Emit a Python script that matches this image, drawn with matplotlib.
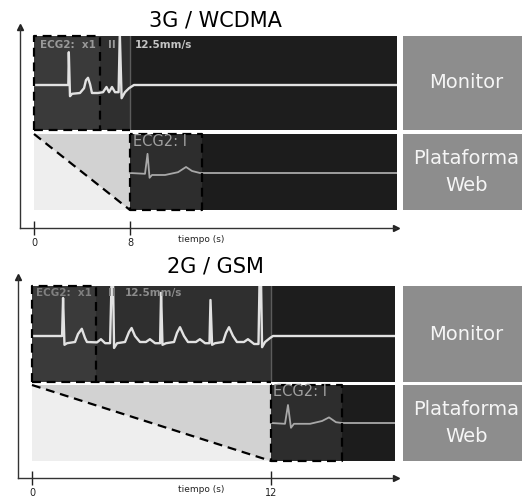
import matplotlib.pyplot as plt

W, H = 522, 500

# -----------------------------
# DATOS
# -----------------------------
titulos = ["3G / WCDMA", "2G / GSM"]
retardos = [8, 12]              # segundos hasta que la web muestra el ECG
ticks_tiempo = [[0, 8], [0, 12]]
etiqueta_tiempo = "tiempo (s)"
etiquetas_caja = ["Monitor", "Plataforma\nWeb"]
texto_monitor = ["ECG2:  x1", "II", "12.5mm/s"]
texto_web = "ECG2: I"

# ECG en el monitor, 3G (t en s, amplitud en mV)
mon_t_3g = [0.0, 2.86, 2.9, 3.0, 3.17, 3.83, 4.17, 4.33, 4.5, 4.67, 4.83, 5.33,
            5.75, 6.04, 6.25, 6.5, 6.75, 7.05, 7.15, 7.3, 7.58, 7.92, 8.33, 31.0]
mon_v_3g = [0, 0, 0.82, -0.28, -0.22, -0.2, -0.08, 0.12, 0.18, 0.02, -0.2, -0.2,
            -0.18, -0.05, -0.18, -0.05, -0.18, -0.18, 1.3, -0.33, -0.18, -0.08, 0, 0]

# ECG en la plataforma web, 3G
web_t_3g = [8.0, 9.25, 9.46, 9.63, 9.83, 10.92, 12.0, 12.67, 13.17, 13.83, 31.0]
web_v_3g = [0, -0.02, 0.48, -0.12, -0.05, -0.05, 0.02, 0.15, 0.05, 0, 0]

# ECG en el monitor, 2G
mon_t_2g = [0.0, 1.46, 1.51, 1.56, 1.63, 1.76, 2.16, 2.31, 2.5, 2.66, 2.76, 3.26,
            3.46, 3.67, 3.92, 3.99, 4.07, 4.12, 4.27, 4.67, 4.87, 5.0, 5.17, 5.42,
            5.72, 5.92, 6.18, 6.43, 6.48, 6.55, 6.73, 7.13, 7.28, 7.43, 7.63, 7.83,
            8.23, 8.43, 8.69, 8.91, 8.96, 9.04, 9.19, 9.59, 9.74, 9.89, 10.09, 10.29,
            10.64, 10.84, 11.15, 11.37, 11.42, 11.5, 11.55, 11.7, 11.95, 12.1, 19.0]
mon_v_2g = [0, 0, 0, 0.95, -0.22, -0.18, -0.15, 0.05, 0.18, -0.05, -0.15, -0.16,
            -0.08, -0.18, -0.18, 1.3, 1.3, -0.3, -0.18, -0.15, 0.1, 0.2, 0, -0.15,
            -0.15, -0.08, -0.18, -0.18, 1.08, -0.22, -0.18, -0.15, 0.08, 0.22, 0, -0.15,
            -0.15, -0.08, -0.18, -0.18, 0.9, -0.22, -0.18, -0.15, 0.08, 0.22, 0, -0.15,
            -0.15, -0.08, -0.2, -0.2, 1.3, 1.3, -0.28, -0.15, -0.05, 0, 0]

# ECG en la plataforma web, 2G
web_t_2g = [12.0, 12.7, 12.85, 13.0, 13.15, 13.96, 14.56, 14.91, 15.26, 15.56, 19.0]
web_v_2g = [0, -0.02, 0.45, -0.12, -0.02, -0.02, 0.05, 0.14, 0.02, 0, 0]

# -----------------------------
# DISPOSICIÓN (pixeles)
# -----------------------------
paneles = [
    dict(t0=34, pps=12.0, ax_x0=20, ax_x1=396, ax_top=27, ax_y=228, x1=397,
         mon=(36, 130), web=(134, 210), mon_base=85, web_base=173,
         caja_mon=100, caja_web=202, titulo_y=20, txt_mon=(40, 108, 135, 45),
         txt_web=(133, 142), col_txt=["#9a9a9a", "#9a9a9a", "#c4c4c4"]),
    dict(t0=32, pps=19.92, ax_x0=18, ax_x1=396, ax_top=277, ax_y=478, x1=395,
         mon=(286, 382), web=(385, 461), mon_base=336, web_base=423,
         caja_mon=96, caja_web=342, titulo_y=267, txt_mon=(36, 108, 125, 293),
         txt_web=(273, 392), col_txt=["#808080", "#808080", "#8c8c8c"]),
]
PX_MV = 40.0
DASH = dict(color="black", lw=1.6, ls=(0, (4, 2.6)), clip_on=False, zorder=5)

fig = plt.figure(figsize=(W / 100, H / 100), dpi=100)


def px_axes(x0, y0, x1, y1):
    ax = fig.add_axes([x0 / W, 1 - y1 / H, (x1 - x0) / W, (y1 - y0) / H])
    ax.set_xticks([])
    ax.set_yticks([])
    for s in ax.spines.values():
        s.set_visible(False)
    return ax


def fig_text(x, y, s, **kw):
    fig.text(x / W, 1 - y / H, s, **kw)


for cfg, titulo, ret, ticks, mt, mv, wt, wv in zip(
        paneles, titulos, retardos, ticks_tiempo,
        [mon_t_3g, mon_t_2g], [mon_v_3g, mon_v_2g],
        [web_t_3g, web_t_2g], [web_v_3g, web_v_2g]):

    def tx(px):
        return (px - cfg["t0"]) / cfg["pps"]

    # eje de tiempo con flechas
    ax = px_axes(cfg["ax_x0"], cfg["ax_top"], cfg["ax_x1"], cfg["ax_y"])
    ax.patch.set_alpha(0)
    ax.set_xlim(tx(cfg["ax_x0"]), tx(cfg["ax_x1"]))
    ax.set_ylim(0, 1)
    for s in ["left", "bottom"]:
        ax.spines[s].set_visible(True)
        ax.spines[s].set_color("#333333")
        ax.spines[s].set_linewidth(1.0)
    ax.set_xticks(ticks)
    ax.tick_params(axis="x", direction="inout", length=10, width=1,
                   labelsize=7, pad=2, colors="#222222")
    ax.set_xlabel(etiqueta_tiempo, fontsize=6.5, color="#222222")
    ax.xaxis.set_label_coords((201 - cfg["ax_x0"]) / (cfg["ax_x1"] - cfg["ax_x0"]),
                              -7 / (cfg["ax_y"] - cfg["ax_top"]))
    ax.plot(1, 0, ">", color="#222222", ms=4, transform=ax.transAxes, clip_on=False)
    ax.plot(0, 1, "^", color="#222222", ms=4, transform=ax.transAxes, clip_on=False)

    fig_text(215, cfg["titulo_y"], titulo, ha="center", va="center", fontsize=15)

    # pantalla del monitor
    y0, y1 = cfg["mon"]
    am = px_axes(cfg["t0"], y0, cfg["x1"], y1)
    am.set_xlim(0, tx(cfg["x1"]))
    am.set_ylim(-(y1 - cfg["mon_base"]) / PX_MV, (cfg["mon_base"] - y0) / PX_MV)
    am.set_facecolor("#1d1d1d")
    am.axvspan(0, ret, color="#2f2f2f", lw=0)
    am.axvspan(0, tx(cfg["caja_mon"]), color="#3a3a3a", lw=0)
    am.axvline(ret, color="#5c5c5c", lw=1)
    am.plot(mt, mv, color="#e2e2e2", lw=1.7)
    xt = am.get_xaxis_transform()
    b = tx(cfg["caja_mon"])
    am.plot([0, 0, b, b], [0, 1, 1, 0], transform=xt, **DASH)
    am.plot([0, ret], [0, 0], transform=xt, **DASH)

    xa, xb, xc, yt = cfg["txt_mon"]
    for x, s, c in zip([xa, xb, xc], texto_monitor, cfg["col_txt"]):
        fig_text(x, yt, s, ha="left", va="center", fontsize=7.5,
                 fontweight="bold", color=c)

    # plataforma web
    y0, y1 = cfg["web"]
    aw = px_axes(cfg["t0"], y0, cfg["x1"], y1)
    aw.set_xlim(0, tx(cfg["x1"]))
    aw.set_ylim(-(y1 - cfg["web_base"]) / PX_MV, (cfg["web_base"] - y0) / PX_MV)
    aw.set_facecolor("#1c1c1c")
    xt = aw.get_xaxis_transform()
    aw.axvspan(0, ret, color="#eeeeee", lw=0)
    aw.fill([0, ret, ret], [1, 1, 0], color="#d2d2d2", lw=0, transform=xt)
    b = tx(cfg["caja_web"])
    aw.axvspan(ret, b, color="#2d2d2d", lw=0)
    aw.plot(wt, wv, color="#a8a8a8", lw=1.3)
    aw.plot([0, ret], [1, 0], transform=xt, **DASH)
    aw.plot([ret, ret, b, b, ret], [1, 0, 0, 1, 1], transform=xt, **DASH)
    fig_text(cfg["txt_web"][0], cfg["txt_web"][1], texto_web, ha="left",
             va="center", fontsize=10.5, color="#a0a0a0")

    # cajas de la derecha
    for (c0, c1), etiqueta in zip([cfg["mon"], cfg["web"]], etiquetas_caja):
        ab = px_axes(403, c0, 530, c1)
        ab.set_facecolor("#8d8d8d")
        ab.text(0.5, 0.5, etiqueta, transform=ab.transAxes, ha="center",
                va="center", fontsize=14, color="#f5f5f5", linespacing=1.5)

fig.savefig("out.png", dpi=100)
